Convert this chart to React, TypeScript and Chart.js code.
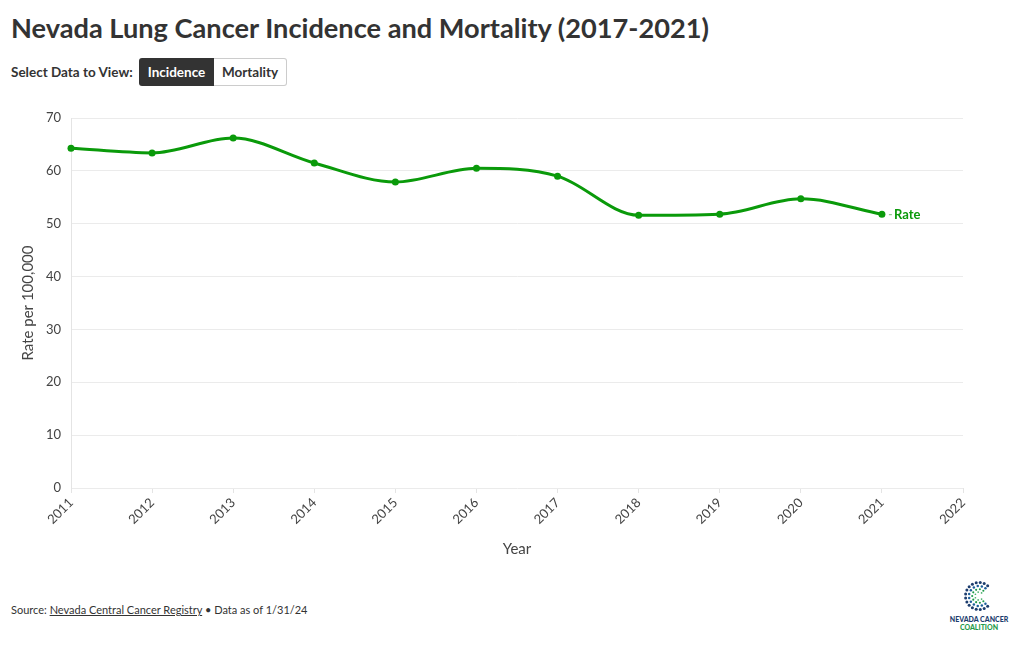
import React, { useEffect, useRef } from "react";
import { Chart, registerables } from "chart.js";

Chart.register(...registerables);

const years = [2011, 2012, 2013, 2014, 2015, 2016, 2017, 2018, 2019, 2020, 2021];
const rates = [64.3, 63.4, 66.2, 61.5, 57.9, 60.5, 59.0, 51.6, 51.8, 54.7, 51.8];
const seriesLabel = "Rate";
const xMin = 2011;
const xMax = 2022;
const yMin = 0;
const yMax = 70;

const GREEN = "#0a9a0a";
const FONT = "Lato, 'Source Sans Pro', 'Noto Sans', sans-serif";

const endLabelPlugin = {
  id: "endLabel",
  afterDatasetsDraw(chart: any) {
    const meta = chart.getDatasetMeta(0);
    const pts = meta.data;
    if (!pts || !pts.length) return;
    const last = pts[pts.length - 1];
    const ctx = chart.ctx;
    ctx.save();
    ctx.strokeStyle = "#7bbf7b";
    ctx.lineWidth = 1;
    ctx.beginPath();
    ctx.moveTo(last.x + 7, last.y + 0.5);
    ctx.lineTo(last.x + 10, last.y + 0.5);
    ctx.stroke();
    ctx.fillStyle = GREEN;
    ctx.font = "bold 13px " + FONT;
    ctx.textBaseline = "middle";
    ctx.textAlign = "left";
    ctx.fillText(seriesLabel, last.x + 12, last.y + 0.5);
    ctx.restore();
  },
};

function Logo() {
  const dots: React.ReactElement[] = [];
  const cx = 15;
  const cy = 15;
  const rings = [
    { r: 13.5, n: 16, color: "#1d3d6e", size: 1.5 },
    { r: 10, n: 12, color: "#1d5f9a", size: 1.25 },
    { r: 6.8, n: 9, color: "#1f9a4a", size: 1.05 },
    { r: 4, n: 6, color: "#47b06a", size: 0.85 },
  ];
  rings.forEach((ring, ri) => {
    for (let i = 0; i < ring.n; i++) {
      const a0 = (50 * Math.PI) / 180;
      const a1 = (310 * Math.PI) / 180;
      const a = a0 + ((a1 - a0) * i) / (ring.n - 1);
      const x = cx + Math.cos(a) * ring.r;
      const y = cy - Math.sin(a) * ring.r;
      dots.push(<circle key={ri + "-" + i} cx={x} cy={y} r={ring.size} fill={ring.color} />);
    }
  });
  return (
    <div style={{ position: "absolute", left: 946, top: 581, width: 66, textAlign: "center" }}>
      <svg width="30" height="30" viewBox="0 0 30 30" style={{ display: "block", margin: "0 auto" }}>
        {dots}
      </svg>
      <div style={{ fontFamily: FONT, fontWeight: 900, fontSize: 7, lineHeight: "8px", color: "#1d3d6e", marginTop: 4 }}>
        NEVADA CANCER
      </div>
      <div style={{ fontFamily: FONT, fontWeight: 900, fontSize: 7, lineHeight: "8px", color: "#1f9a4a" }}>
        COALITION
      </div>
    </div>
  );
}

export default function App() {
  const canvasRef = useRef<HTMLCanvasElement | null>(null);

  useEffect(() => {
    const canvas = canvasRef.current;
    if (!canvas) return;
    const chart = new Chart(canvas, {
      type: "line",
      data: {
        datasets: [
          {
            label: seriesLabel,
            data: years.map((y, i) => ({ x: y, y: rates[i] })),
            borderColor: GREEN,
            backgroundColor: GREEN,
            borderWidth: 3,
            pointRadius: 3.5,
            pointBackgroundColor: GREEN,
            pointBorderWidth: 0,
            cubicInterpolationMode: "monotone",
            clip: false,
            fill: false,
          },
        ],
      },
      options: {
        responsive: false,
        animation: false,
        layout: { padding: { top: 18, right: 57, bottom: 0, left: 0 } },
        plugins: {
          legend: { display: false },
          tooltip: { enabled: false },
          title: { display: false },
        },
        scales: {
          x: {
            type: "linear",
            min: xMin,
            max: xMax,
            afterFit: (scale: any) => {
              scale.height = 82;
            },
            ticks: {
              stepSize: 1,
              minRotation: 45,
              maxRotation: 45,
              padding: 2,
              color: "#444",
              font: { family: FONT, size: 13 },
              callback: (v: any) => String(v),
            },
            grid: {
              drawOnChartArea: false,
              drawTicks: true,
              tickLength: 5,
              color: "#e4e4e4",
            },
            border: { display: false },
            title: {
              display: true,
              text: "Year",
              color: "#444",
              font: { family: FONT, size: 15 },
              padding: { top: 0, bottom: 12 },
            },
          },
          y: {
            min: yMin,
            max: yMax,
            afterFit: (scale: any) => {
              scale.width = 71;
            },
            ticks: {
              stepSize: 10,
              padding: 10,
              color: "#444",
              font: { family: FONT, size: 13 },
            },
            grid: {
              color: "#ebebeb",
              drawTicks: false,
            },
            border: { display: true, color: "#e4e4e4" },
            title: {
              display: true,
              text: "Rate per 100,000",
              color: "#444",
              font: { family: FONT, size: 15 },
              padding: { top: 19, bottom: 0 },
            },
          },
        },
      },
      plugins: [endLabelPlugin],
    });
    return () => chart.destroy();
  }, []);

  return (
    <div
      style={{
        position: "absolute",
        left: 0,
        top: 0,
        width: 1020,
        height: 650,
        background: "#fff",
        fontFamily: FONT,
        color: "#333",
        overflow: "hidden",
      }}
    >
      <div
        style={{
          position: "absolute",
          left: 11,
          top: 10,
          fontSize: 27.2,
          fontWeight: 700,
          color: "#333",
          whiteSpace: "nowrap",
          lineHeight: "36px",
        }}
      >
        Nevada Lung Cancer Incidence and Mortality (2017-2021)
      </div>
      <div style={{ position: "absolute", left: 11, top: 58, height: 28, display: "flex", alignItems: "center" }}>
        <span style={{ fontSize: 13.5, fontWeight: 700, color: "#333", width: 128, display: "inline-block" }}>
          Select Data to View:
        </span>
        <span
          style={{
            display: "inline-block",
            background: "#333",
            color: "#fff",
            fontSize: 13.5,
            fontWeight: 700,
            height: 28,
            lineHeight: "28px",
            width: 75,
            textAlign: "center",
            borderRadius: "3px 0 0 3px",
            boxSizing: "border-box",
          }}
        >
          Incidence
        </span>
        <span
          style={{
            display: "inline-block",
            background: "#fff",
            color: "#333",
            fontSize: 13.5,
            fontWeight: 700,
            height: 28,
            lineHeight: "26px",
            width: 73,
            textAlign: "center",
            border: "1px solid #ccc",
            borderLeft: "none",
            borderRadius: "0 3px 3px 0",
            boxSizing: "border-box",
          }}
        >
          Mortality
        </span>
      </div>
      <canvas
        ref={canvasRef}
        width={1020}
        height={470}
        style={{ position: "absolute", left: 0, top: 100, width: 1020, height: 470 }}
      />
      <div style={{ position: "absolute", left: 11, top: 603, fontSize: 11, color: "#333", whiteSpace: "nowrap" }}>
        Source: <span style={{ textDecoration: "underline" }}>Nevada Central Cancer Registry</span> • Data as of 1/31/24
      </div>
      <Logo />
    </div>
  );
}
